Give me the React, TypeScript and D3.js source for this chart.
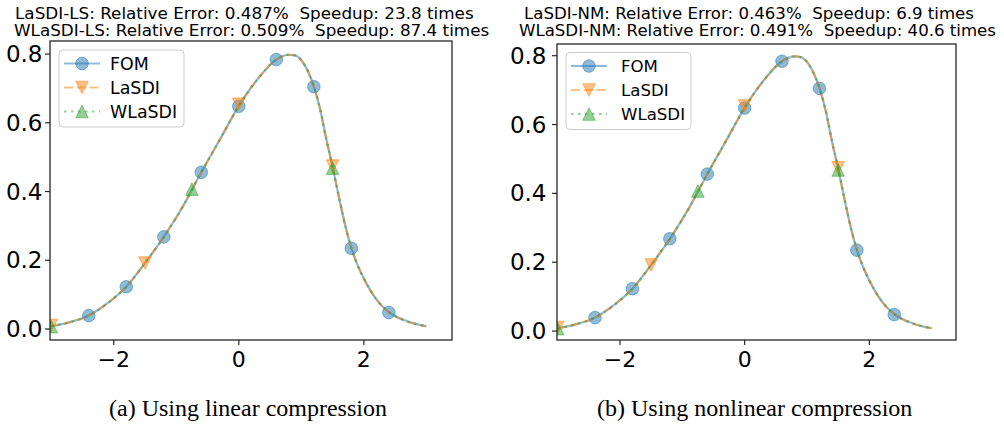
import React from "react";
import * as d3 from "d3";

// ---- data ----
const xGrid = [-3.0, -2.7, -2.4, -2.1, -1.8, -1.5, -1.2, -0.9, -0.6, -0.3, 0.0, 0.3, 0.6, 0.8, 0.9, 1.0, 1.1, 1.2, 1.3, 1.4, 1.5, 1.6, 1.7, 1.8, 1.9, 2.0, 2.2, 2.4, 2.7, 3.0];
const fomCurve = [0.008, 0.02, 0.039, 0.075, 0.123, 0.192, 0.268, 0.355, 0.456, 0.552, 0.649, 0.727, 0.784, 0.798, 0.796, 0.782, 0.752, 0.706, 0.64, 0.552, 0.472, 0.385, 0.303, 0.236, 0.186, 0.147, 0.086, 0.049, 0.022, 0.008];
const lasdiCurve = fomCurve;
const wlasdiCurve = fomCurve;

const fomMarkX = [-2.4, -1.8, -1.2, -0.6, 0, 0.6, 1.2, 1.8, 2.4];
const fomMarkY = [0.039, 0.123, 0.268, 0.456, 0.648, 0.784, 0.705, 0.235, 0.048];
const lasdiMarkX = [-3, -1.5, 0, 1.5];
const lasdiMarkY = [0.01, 0.192, 0.654, 0.474];
const wlasdiMarkX = [-3, -0.75, 1.5];
const wlasdiMarkY = [0.007, 0.407, 0.468];

const xTicks = [-2, 0, 2];
const yTicks = [0, 0.2, 0.4, 0.6, 0.8];
const seriesNames = ["FOM", "LaSDI", "WLaSDI"];
const titlesA = ["LaSDI-LS: Relative Error: 0.487%  Speedup: 23.8 times", "WLaSDI-LS: Relative Error: 0.509%  Speedup: 87.4 times"];
const titlesB = ["LaSDI-NM: Relative Error: 0.463%  Speedup: 6.9 times", "WLaSDI-NM: Relative Error: 0.491%  Speedup: 40.6 times"];
const captions = ["(a) Using linear compression", "(b) Using nonlinear compression"];

// ---- styling / layout ----
const COLORS = ["#1f77b4", "#ff7f0e", "#2ca02c"];
const DASH = ["none", "9,3.8", "2.5,4.5"];
const LW = 2.2;
const MS = 6.3;
const FONT = "'DejaVu Sans', sans-serif";

type PanelCfg = {
  id: string;
  x0: number; x1: number; y0: number; y1: number;
  xDomain: [number, number]; yDomain: [number, number];
  titles: string[]; titleX: number[]; titleScale: number;
  legendX: number; legendY: number; legendTextDx: number; legendFont: number;
  caption: string; captionX: number;
  yLabelGap: number;
};

const panels: PanelCfg[] = [
  {
    id: "a", x0: 50, x1: 452, y0: 41, y1: 340,
    xDomain: [-3.02, 3.41], yDomain: [-0.032, 0.838],
    titles: titlesA, titleX: [15, 14], titleScale: 1.12,
    legendX: 59, legendY: 50, legendTextDx: 51, legendFont: 17.4,
    caption: captions[0], captionX: 248, yLabelGap: 7.5,
  },
  {
    id: "b", x0: 557, x1: 956, y0: 44, y1: 340,
    xDomain: [-3.01, 3.39], yDomain: [-0.026, 0.834],
    titles: titlesB, titleX: [524, 519], titleScale: 1.107,
    legendX: 566, legendY: 52.5, legendTextDx: 55, legendFont: 16.6,
    caption: captions[1], captionX: 754.7, yLabelGap: 10.5,
  },
];

function Marker({ kind, x, y, color }: { kind: number; x: number; y: number; color: string }) {
  const common = { fill: color, fillOpacity: 0.5, stroke: color, strokeOpacity: 0.5, strokeWidth: 1 };
  if (kind === 0) return <circle cx={x} cy={y} r={MS} {...common} />;
  if (kind === 1)
    return <path d={`M${x - MS},${y - MS}L${x + MS},${y - MS}L${x},${y + MS}Z`} {...common} />;
  return <path d={`M${x},${y - MS}L${x + MS},${y + MS}L${x - MS},${y + MS}Z`} {...common} />;
}

function Panel({ p }: { p: PanelCfg }) {
  const xs = d3.scaleLinear().domain(p.xDomain).range([p.x0, p.x1]);
  const ys = d3.scaleLinear().domain(p.yDomain).range([p.y1, p.y0]);
  const line = d3
    .line<number>()
    .x((_, i) => xs(xGrid[i]))
    .y((d) => ys(d))
    .curve(d3.curveMonotoneX);
  const curves = [fomCurve, lasdiCurve, wlasdiCurve];
  const marks = [
    [fomMarkX, fomMarkY],
    [lasdiMarkX, lasdiMarkY],
    [wlasdiMarkX, wlasdiMarkY],
  ];
  const fmt = (v: number) => (v < 0 ? "\u2212" + Math.abs(v) : String(v));
  const legendRows = [13.5, 37.5, 61.5];
  const titleBase = [18.5, 36];
  return (
    <g>
      <defs>
        <clipPath id={`clip-${p.id}`}>
          <rect x={p.x0} y={p.y0} width={p.x1 - p.x0} height={p.y1 - p.y0} />
        </clipPath>
      </defs>
      {p.titles.map((t, i) => (
        <text
          key={i}
          transform={`translate(${p.titleX[i]},${titleBase[i]}) scale(${p.titleScale},1)`}
          fontSize={15}
          fontFamily={FONT}
          fill="#000"
          style={{ whiteSpace: "pre" }}
        >
          {t}
        </text>
      ))}
      <g clipPath={`url(#clip-${p.id})`}>
        {curves.map((c, k) => (
          <g key={k}>
            <path d={line(c) || ""} fill="none" stroke={COLORS[k]} strokeOpacity={0.5} strokeWidth={LW} strokeDasharray={DASH[k]} />
            {marks[k][0].map((mx, j) => (
              <Marker key={j} kind={k} x={xs(mx)} y={ys(marks[k][1][j])} color={COLORS[k]} />
            ))}
          </g>
        ))}
      </g>
      <rect x={p.x0} y={p.y0} width={p.x1 - p.x0} height={p.y1 - p.y0} fill="none" stroke="#262626" strokeWidth={1.3} />
      {xTicks.map((t) => (
        <g key={t}>
          <line x1={xs(t)} x2={xs(t)} y1={p.y1} y2={p.y1 + 5} stroke="#262626" strokeWidth={1.2} />
          <text x={xs(t)} y={366.5} textAnchor="middle" fontSize={22} fontFamily={FONT}>
            {fmt(t)}
          </text>
        </g>
      ))}
      {yTicks.map((t) => (
        <g key={t}>
          <line x1={p.x0 - 5} x2={p.x0} y1={ys(t)} y2={ys(t)} stroke="#262626" strokeWidth={1.2} />
          <text x={p.x0 - p.yLabelGap} y={ys(t) + 8} textAnchor="end" fontSize={23} fontFamily={FONT}>
            {t.toFixed(1)}
          </text>
        </g>
      ))}
      <rect x={p.legendX} y={p.legendY} width={125} height={77} rx={4} fill="#fff" fillOpacity={0.8} stroke="#cccccc" strokeWidth={1} />
      {seriesNames.map((n, k) => {
        const yy = p.legendY + legendRows[k];
        return (
          <g key={n}>
            <line x1={p.legendX + 5} x2={p.legendX + 41} y1={yy} y2={yy} stroke={COLORS[k]} strokeOpacity={0.5} strokeWidth={LW} strokeDasharray={DASH[k]} />
            <Marker kind={k} x={p.legendX + 23} y={yy} color={COLORS[k]} />
            <text x={p.legendX + p.legendTextDx} y={yy + 6.3} fontSize={p.legendFont} fontFamily={FONT}>
              {n}
            </text>
          </g>
        );
      })}
      <text x={p.captionX} y={416} textAnchor="middle" fontSize={24} fontFamily="'Liberation Serif', 'Times New Roman', serif">
        {p.caption}
      </text>
    </g>
  );
}

export default function App() {
  return (
    <svg width={1004} height={426} style={{ position: "absolute", left: 0, top: 0, background: "#fff" }}>
      <rect width={1004} height={426} fill="#fff" />
      {panels.map((p) => (
        <Panel key={p.id} p={p} />
      ))}
    </svg>
  );
}
